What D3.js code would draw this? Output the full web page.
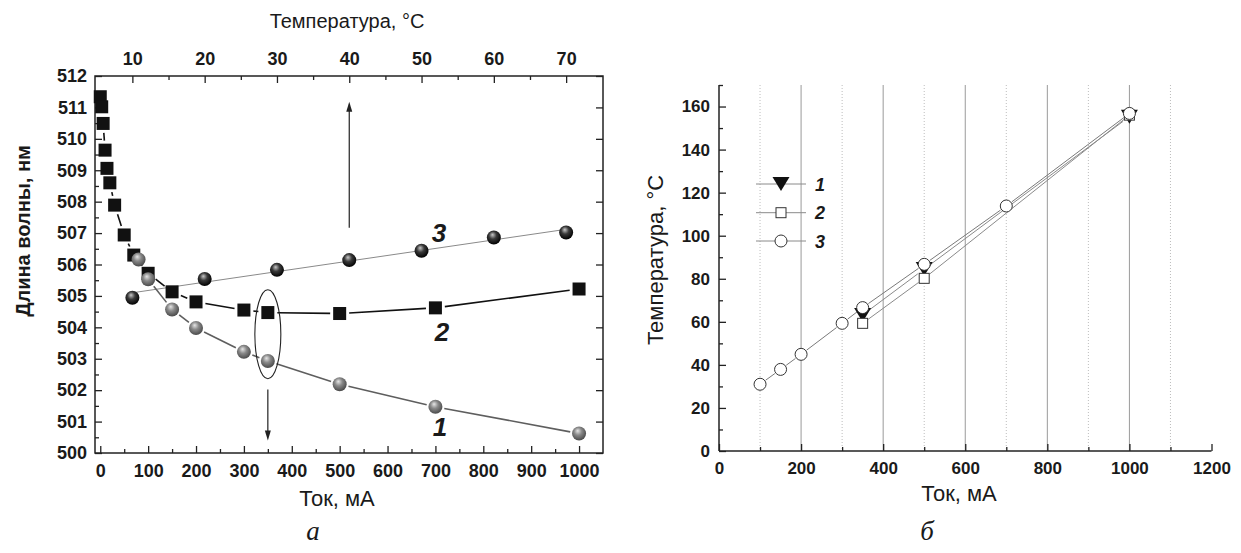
<!DOCTYPE html>
<html>
<head>
<meta charset="utf-8">
<script src="https://cdn.jsdelivr.net/npm/d3@7"></script>
<style>
body{margin:0;background:#fff}
svg{display:block}
text{font-family:"Liberation Sans",Arial,sans-serif;fill:#1a1a1a}
</style>
</head>
<body>
<svg id="chart" width="1241" height="553"></svg>
<script>
// ---- panel a: wavelength vs current / temperature ----
const curr2=[0,3,6,10,14,20,30,50,70,100,150,200,300,350,500,700,1000];
const wave2=[511.34,511.02,510.49,509.64,509.06,508.6,507.89,506.94,506.3,505.72,505.13,504.81,504.55,504.47,504.44,504.62,505.22];
const curr1=[80,100,150,200,300,350,500,700,1000];
const wave1=[506.16,505.53,504.57,503.98,503.22,502.93,502.19,501.47,500.62];
const temp3=[10,20,30,40,50,60,70];
const wave3=[504.94,505.54,505.83,506.14,506.44,506.86,507.02];
const fitTemp3=[10,70];
const fitWave3=[505.1,507.12];
const waveTicks=[500,501,502,503,504,505,506,507,508,509,510,511,512];
const currTicksA=[0,100,200,300,400,500,600,700,800,900,1000];
const tempTicksA=[10,20,30,40,50,60,70];

// ---- panel b: temperature vs current ----
const currB1=[350,500,1000];
const tempB1=[63.2,84.5,155.3];
const currB2=[350,500,1000];
const tempB2=[59.3,80.2,156];
const currB3=[100,150,200,300,350,500,700,1000];
const tempB3=[31,37.9,44.9,59.3,66.6,86.7,113.8,156.8];
const tempTicksB=[0,20,40,60,80,100,120,140,160];
const currTicksB=[0,200,400,600,800,1000,1200];

(function(){
    let svg=d3.select('#chart');
    let defs=svg.append('defs');
    function sphereGrad(id,c0,c1,c2){
        let g=defs.append('radialGradient').attr('id',id)
            .attr('cx','45%').attr('cy','40%').attr('r','60%')
            .attr('fx','40%').attr('fy','30%');
        g.append('stop').attr('offset','0%').attr('stop-color',c0);
        g.append('stop').attr('offset','45%').attr('stop-color',c1);
        g.append('stop').attr('offset','100%').attr('stop-color',c2);
    }
    sphereGrad('gDark','#c8c8c8','#3a3a3a','#000');
    sphereGrad('gGrey','#e6e6e6','#8a8a8a','#4a4a4a');

    //lines with small gaps round the markers, like the original plot program
    function gapSegments(xs,ys,sx,sy,gap){
        let segs=[];
        for (let i=0;i<xs.length-1;i++){
            let x1=sx(xs[i]),y1=sy(ys[i]),x2=sx(xs[i+1]),y2=sy(ys[i+1]);
            let dx=x2-x1,dy=y2-y1,len=Math.sqrt(dx*dx+dy*dy);
            if (len<=2*gap+1) continue;
            let ux=dx/len,uy=dy/len;
            segs.push([x1+ux*gap,y1+uy*gap,x2-ux*gap,y2-uy*gap]);
        }
        return segs;
    }
    function drawSegs(g,segs,color,width){
        g.selectAll(null).data(segs).enter().append('line')
            .attr('x1',d=>d[0]).attr('y1',d=>d[1]).attr('x2',d=>d[2]).attr('y2',d=>d[3])
            .attr('stroke',color).attr('stroke-width',width);
    }
    function range(a,b,s){let r=[];for(let v=a;v<=b+1e-9;v+=s)r.push(+v.toFixed(3));return r;}
    function styleAxis(g,size){
        g.select('.domain').remove();
        g.selectAll('line').attr('stroke','#222').attr('stroke-width',1.3);
        g.selectAll('text').attr('font-size',size).attr('font-weight','bold').attr('fill','#1a1a1a')
            .attr('font-family','"Liberation Sans",Arial,sans-serif');
    }

    // ================= panel a =================
    let L=95,R=603,T=76,B=453;
    let x=d3.scaleLinear().domain([-11,1050]).range([L,R]);
    let xt=d3.scaleLinear().domain([4.83,75.1]).range([L,R]);
    let y=d3.scaleLinear().domain([500,512]).range([B,T]);
    let ga=svg.append('g');

    // axes
    let ax;
    ax=ga.append('g').attr('transform','translate('+L+',0)')
        .call(d3.axisLeft(y).tickValues(range(500.5,511.5,1)).tickFormat('').tickSize(-4).tickSizeOuter(0));
    styleAxis(ax,18);
    ax=ga.append('g').attr('transform','translate('+L+',0)')
        .call(d3.axisLeft(y).tickValues(waveTicks).tickFormat(d3.format('d')).tickSize(-7).tickSizeOuter(0).tickPadding(8));
    styleAxis(ax,18);
    ax=ga.append('g').attr('transform','translate('+R+',0)')
        .call(d3.axisRight(y).tickValues(waveTicks).tickFormat('').tickSize(-7).tickSizeOuter(0));
    styleAxis(ax,18);
    ax=ga.append('g').attr('transform','translate(0,'+B+')')
        .call(d3.axisBottom(x).tickValues(range(50,950,100)).tickFormat('').tickSize(-4).tickSizeOuter(0));
    styleAxis(ax,18);
    ax=ga.append('g').attr('transform','translate(0,'+B+')')
        .call(d3.axisBottom(x).tickValues(currTicksA).tickFormat(d3.format('d')).tickSize(-7).tickSizeOuter(0).tickPadding(11));
    styleAxis(ax,18);
    ax=ga.append('g').attr('transform','translate(0,'+T+')')
        .call(d3.axisTop(xt).tickValues(range(15,65,10)).tickFormat('').tickSize(-4).tickSizeOuter(0));
    styleAxis(ax,18);
    ax=ga.append('g').attr('transform','translate(0,'+T+')')
        .call(d3.axisTop(xt).tickValues(tempTicksA).tickFormat(d3.format('d')).tickSize(-7).tickSizeOuter(0).tickPadding(11));
    styleAxis(ax,18);
    ga.append('rect').attr('x',L).attr('y',T).attr('width',R-L).attr('height',B-T)
        .attr('fill','none').attr('stroke','#222').attr('stroke-width',1.5);

    // series 3: linear fit + spheres (temperature axis)
    ga.append('line')
        .attr('x1',xt(fitTemp3[0])).attr('y1',y(fitWave3[0]))
        .attr('x2',xt(fitTemp3[1])).attr('y2',y(fitWave3[1]))
        .attr('stroke','#8a8a8a').attr('stroke-width',1);
    // series 1 line, series 2 line
    drawSegs(ga,gapSegments(curr1,wave1,x,y,9),'#5e5e5e',1.6);
    drawSegs(ga,gapSegments(curr2,wave2,x,y,9.5),'#111',1.6);

    ga.selectAll(null).data(temp3).enter().append('circle')
        .attr('cx',d=>xt(d)).attr('cy',(d,i)=>y(wave3[i])).attr('r',7)
        .attr('fill','url(#gDark)');
    ga.selectAll(null).data(curr2).enter().append('rect')
        .attr('x',d=>x(d)-6.5).attr('y',(d,i)=>y(wave2[i])-6.5)
        .attr('width',13).attr('height',13).attr('fill','#111');
    ga.selectAll(null).data(curr1).enter().append('circle')
        .attr('cx',d=>x(d)).attr('cy',(d,i)=>y(wave1[i])).attr('r',7)
        .attr('fill','url(#gGrey)');

    // annotations
    let upArrow=[511.18,507.17], downArrow=[502.02,500.4], ell=[350,503.78];
    function arrow(x0,y0,y1){
        let dir=y1<y0?1:-1;
        ga.append('line').attr('x1',x0).attr('x2',x0).attr('y1',y0).attr('y2',y1+dir*8)
            .attr('stroke','#222').attr('stroke-width',1.2);
        ga.append('path')
            .attr('d','M'+x0+','+y1+'L'+(x0-3)+','+(y1+dir*10)+'L'+(x0+3)+','+(y1+dir*10)+'Z')
            .attr('fill','#222');
    }
    arrow(xt(40),y(upArrow[1]),y(upArrow[0]));
    arrow(x(350),y(downArrow[0]),y(downArrow[1]));
    ga.append('ellipse').attr('cx',x(ell[0])).attr('cy',y(ell[1])).attr('rx',13).attr('ry',44.5)
        .attr('fill','none').attr('stroke','#222').attr('stroke-width',1.1);

    let numStyle=function(t){t.attr('font-size',26).attr('font-style','italic').attr('font-weight','bold').attr('text-anchor','middle');};
    ga.append('text').attr('x',439).attr('y',242).text('3').call(numStyle);
    ga.append('text').attr('x',442).attr('y',341).text('2').call(numStyle);
    ga.append('text').attr('x',440).attr('y',436).text('1').call(numStyle);

    ga.append('text').attr('x',347).attr('y',28).attr('text-anchor','middle').attr('font-size',20)
        .text('Температура, °С');
    ga.append('text').attr('x',337).attr('y',506).attr('text-anchor','middle').attr('font-size',22)
        .text('Ток, мА');
    ga.append('text').attr('transform','translate(30,231) rotate(-90)').attr('text-anchor','middle')
        .attr('font-size',20).attr('font-weight','bold').text('Длина волны, нм');
    ga.append('text').attr('x',313).attr('y',540).attr('text-anchor','middle').attr('font-size',27)
        .attr('font-style','italic').style('font-family','"Liberation Serif","Times New Roman",serif').text('а');

    // ================= panel b =================
    let L2=719,R2=1211.5,T2=85,B2=451;
    let x2=d3.scaleLinear().domain([0,1200]).range([L2,R2]);
    let y2=d3.scaleLinear().domain([0,170]).range([B2,T2]);
    let gb=svg.append('g');

    // grid
    gb.selectAll(null).data(range(100,1100,200)).enter().append('line')
        .attr('x1',d=>x2(d)).attr('x2',d=>x2(d)).attr('y1',T2).attr('y2',B2)
        .attr('stroke','#bdbdbd').attr('stroke-width',1).attr('stroke-dasharray','1,2');
    gb.selectAll(null).data(currTicksB.slice(1,-1)).enter().append('line')
        .attr('x1',d=>x2(d)).attr('x2',d=>x2(d)).attr('y1',T2).attr('y2',B2)
        .attr('stroke','#9a9a9a').attr('stroke-width',1);

    ax=gb.append('g').attr('transform','translate('+L2+',0)')
        .call(d3.axisLeft(y2).tickValues(range(10,170,20)).tickFormat('').tickSize(-4).tickSizeOuter(0));
    styleAxis(ax,17);
    ax=gb.append('g').attr('transform','translate('+L2+',0)')
        .call(d3.axisLeft(y2).tickValues(tempTicksB).tickFormat(d3.format('d')).tickSize(-7).tickSizeOuter(0).tickPadding(9));
    styleAxis(ax,17);
    ax=gb.append('g').attr('transform','translate(0,'+B2+')')
        .call(d3.axisBottom(x2).tickValues(range(100,1100,200)).tickFormat('').tickSize(-4).tickSizeOuter(0));
    styleAxis(ax,17);
    ax=gb.append('g').attr('transform','translate(0,'+B2+')')
        .call(d3.axisBottom(x2).tickValues(currTicksB).tickFormat(d3.format('d')).tickSize(-7).tickSizeOuter(0).tickPadding(11));
    styleAxis(ax,17);
    gb.append('line').attr('x1',L2).attr('x2',L2).attr('y1',T2).attr('y2',B2).attr('stroke','#222').attr('stroke-width',1.5);
    gb.append('line').attr('x1',L2).attr('x2',R2).attr('y1',B2).attr('y2',B2).attr('stroke','#222').attr('stroke-width',1.5);

    drawSegs(gb,gapSegments(currB1,tempB1,x2,y2,8),'#8a8a8a',1);
    drawSegs(gb,gapSegments(currB2,tempB2,x2,y2,7),'#8a8a8a',1);
    drawSegs(gb,gapSegments(currB3,tempB3,x2,y2,7),'#7a7a7a',1);

    function triPath(cx,cy){return 'M'+(cx-8.5)+','+(cy-7)+'L'+(cx+8.5)+','+(cy-7)+'L'+cx+','+(cy+7)+'Z';}
    gb.selectAll(null).data(currB1).enter().append('path')
        .attr('d',(d,i)=>triPath(x2(d),y2(tempB1[i]))).attr('fill','#111');
    gb.selectAll(null).data(currB2).enter().append('rect')
        .attr('x',d=>x2(d)-5).attr('y',(d,i)=>y2(tempB2[i])-5).attr('width',10).attr('height',10)
        .attr('fill','#fff').attr('stroke','#333').attr('stroke-width',1);
    gb.selectAll(null).data(currB3).enter().append('circle')
        .attr('cx',d=>x2(d)).attr('cy',(d,i)=>y2(tempB3[i])).attr('r',6)
        .attr('fill','#fff').attr('stroke','#333').attr('stroke-width',1);

    // legend
    let legY=[184,212.7,241], legNames=['1','2','3'];
    legY.forEach(function(ly,i){
        gb.append('line').attr('x1',756).attr('x2',806).attr('y1',ly).attr('y2',ly)
            .attr('stroke','#8a8a8a').attr('stroke-width',1);
        if (i===0) gb.append('path').attr('d',triPath(781,ly)).attr('fill','#111');
        if (i===1) gb.append('rect').attr('x',776).attr('y',ly-5).attr('width',10).attr('height',10)
            .attr('fill','#fff').attr('stroke','#333');
        if (i===2) gb.append('circle').attr('cx',781).attr('cy',ly).attr('r',6)
            .attr('fill','#fff').attr('stroke','#333');
        gb.append('text').attr('x',815).attr('y',ly+6.5).attr('font-size',18)
            .attr('font-weight','bold').attr('font-style','italic').text(legNames[i]);
    });

    gb.append('text').attr('x',959).attr('y',501).attr('text-anchor','middle').attr('font-size',22)
        .text('Ток, мА');
    gb.append('text').attr('transform','translate(663,260) rotate(-90)').attr('text-anchor','middle')
        .attr('font-size',22).text('Температура, °С');
    gb.append('text').attr('x',927).attr('y',540).attr('text-anchor','middle').attr('font-size',27)
        .attr('font-style','italic').style('font-family','"Liberation Serif","Times New Roman",serif').text('б');
})();
</script>
</body>
</html>
